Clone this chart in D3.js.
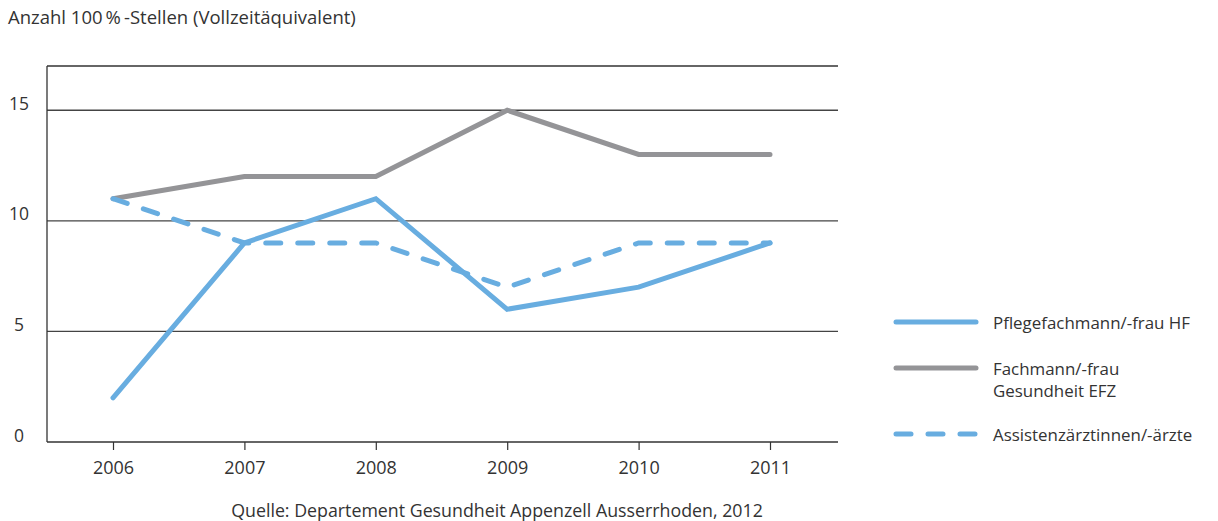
<!DOCTYPE html>
<html>
<head>
    <script src="https://d3js.org/d3.v7.min.js" charset="utf-8"></script>
    <style>
        body { margin: 0; background: #fff; }
        text { font-family: "Open Sans", Roboto, sans-serif; fill: #333; }
    </style>
</head>
<body>
   <script>
        var years = [2006, 2007, 2008, 2009, 2010, 2011];
        var pflegeHF = [2, 9, 11, 6, 7, 9];
        var fachmannEFZ = [11, 12, 12, 15, 13, 13];
        var assistenz = [11, 9, 9, 7, 9, 9];
        var yTicks = [0, 5, 10, 15];
        var seriesNames = [["Pflegefachmann/-frau HF"], ["Fachmann/-frau", "Gesundheit EFZ"], ["Assistenzärztinnen/-ärzte"]];

        var blue = "#68ade0", grey = "#949497";
        var series = [
            { values: pflegeHF, color: blue, dash: null },
            { values: fachmannEFZ, color: grey, dash: null },
            { values: assistenz, color: blue, dash: "15 17" }
        ];

        var svg = d3.select("body")
            .append("svg")
            .attr("width", 1218)
            .attr("height", 521);

        var plotL = 47, plotR = 838, plotT = 66, plotB = 442;
        var x = d3.scaleLinear().domain([2006, 2011]).range([113, 770]);
        var y = d3.scaleLinear().domain([0, 17]).range([plotB, plotT]);

        // title
        svg.append("text")
            .attr("x", 8).attr("y", 24)
            .style("font-size", "18.5px")
            .text("Anzahl 100\u2009%\u2009-Stellen (Vollzeitäquivalent)");

        // grid lines
        svg.selectAll("line.grid")
            .data(yTicks.filter(function (d) { return d > 0; }))
            .enter().append("line")
            .attr("class", "grid")
            .attr("x1", plotL).attr("x2", plotR)
            .attr("y1", function (d) { return y(d); })
            .attr("y2", function (d) { return y(d); })
            .style("stroke", "#444").style("stroke-width", 1.3);

        // frame: top and left
        svg.append("line").attr("x1", plotL).attr("x2", plotR).attr("y1", plotT).attr("y2", plotT)
            .style("stroke", "#333").style("stroke-width", 1.3);
        svg.append("line").attr("x1", plotL).attr("x2", plotL).attr("y1", plotT).attr("y2", plotB)
            .style("stroke", "#333").style("stroke-width", 1.3);

        // bottom axis
        var xAxis = d3.axisBottom(x)
            .tickValues(years)
            .tickFormat(d3.format("d"))
            .tickSize(8)
            .tickSizeOuter(0);
        var gx = svg.append("g")
            .attr("transform", "translate(0," + plotB + ")")
            .call(xAxis);
        gx.select(".domain").remove();
        gx.append("line").attr("x1", plotL).attr("x2", plotR)
            .style("stroke", "#333").style("stroke-width", 1.3);
        gx.selectAll(".tick line").style("stroke", "#333").style("stroke-width", 1.2);
        gx.selectAll(".tick text")
            .attr("y", 32).attr("dy", 0)
            .style("font-size", "18px")
            .style("font-family", "'Open Sans', Roboto, sans-serif")
            .style("fill", "#333");

        // y labels
        svg.selectAll("text.ylab")
            .data(yTicks)
            .enter().append("text")
            .attr("class", "ylab")
            .attr("x", 19)
            .attr("y", function (d) { return y(d) - 0.5; })
            .attr("text-anchor", "middle")
            .style("font-size", "17.5px")
            .text(function (d) { return d; });

        // lines
        var line = d3.line()
            .x(function (d, i) { return x(years[i]); })
            .y(function (d) { return y(d); });
        svg.selectAll("path.series")
            .data(series)
            .enter().append("path")
            .attr("class", "series")
            .attr("d", function (d) { return line(d.values); })
            .style("fill", "none")
            .style("stroke", function (d) { return d.color; })
            .style("stroke-width", 5)
            .style("stroke-linecap", "round")
            .style("stroke-linejoin", "miter")
            .style("stroke-dasharray", function (d) { return d.dash; });

        // legend
        var legY = [322, 368, 434];
        var leg = svg.selectAll("g.leg")
            .data(series)
            .enter().append("g")
            .attr("class", "leg")
            .attr("transform", function (d, i) { return "translate(0," + legY[i] + ")"; });
        leg.append("line")
            .attr("x1", 896).attr("x2", 976)
            .style("stroke", function (d) { return d.color; })
            .style("stroke-width", 5)
            .style("stroke-linecap", "round")
            .style("stroke-dasharray", function (d) { return d.dash; });
        leg.append("text")
            .attr("x", 993)
            .attr("y", 6.5)
            .style("font-size", "16.9px")
            .selectAll("tspan")
            .data(function (d, i) { return seriesNames[i]; })
            .enter().append("tspan")
            .attr("x", 993)
            .attr("dy", function (d, j) { return j === 0 ? 0 : 22; })
            .text(function (d) { return d; });

        // source
        svg.append("text")
            .attr("x", 497).attr("y", 517)
            .attr("text-anchor", "middle")
            .style("font-size", "17.8px")
            .text("Quelle: Departement Gesundheit Appenzell Ausserrhoden, 2012");
    </script>
</body>
</html>
